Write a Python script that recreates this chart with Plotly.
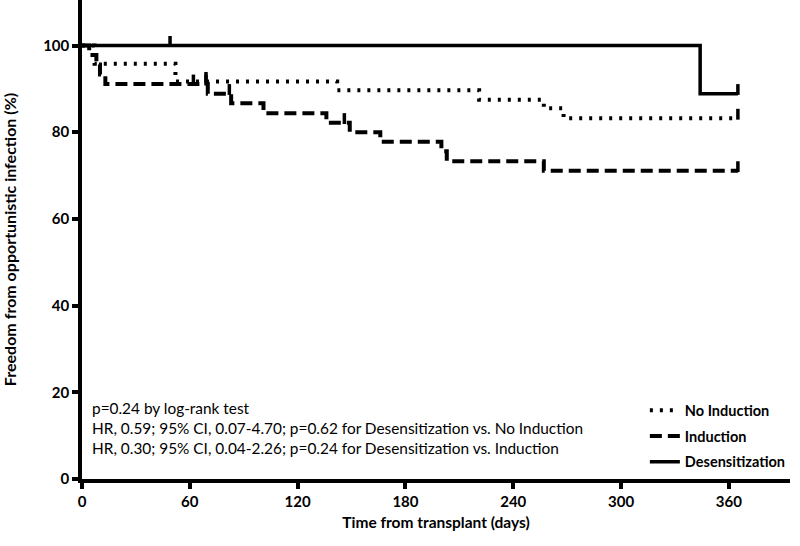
import plotly.graph_objects as go

# ---- data ----
desens_t = [0, 344, 365]
desens_s = [100, 88.9, 88.9]
desens_cens_t = [49, 365]
desens_cens_s = [100, 88.9]

noind_t = [0, 7, 52, 142, 221, 257, 268, 365]
noind_s = [100, 95.8, 91.7, 89.7, 87.5, 85.5, 83.2, 83.2]
noind_cens_t = [69, 365]
noind_cens_s = [91.7, 83.2]

ind_t = [0, 4, 8, 10, 13, 70, 83, 101, 136, 149, 166, 200, 203, 257, 365]
ind_s = [100, 97.8, 95.6, 93.3, 91.1, 88.9, 86.7, 84.4, 82.2, 80.0, 77.8, 75.6, 73.3, 71.1, 71.1]
ind_cens_t = [62, 69, 82, 146, 365]
ind_cens_s = [91.1, 91.1, 88.9, 82.2, 71.1]

x_ticks = [0, 60, 120, 180, 240, 300, 360]
y_ticks = [0, 20, 40, 60, 80, 100]

stats_lines = [
    "p=0.24 by log-rank test",
    "HR, 0.59; 95% CI, 0.07-4.70; p=0.62 for Desensitization vs. No Induction",
    "HR, 0.30; 95% CI, 0.04-2.26; p=0.24 for Desensitization vs. Induction",
]
stats_y = [16.4, 11.8, 7.2]

FONT = "Lato"
fig = go.Figure()

series = [
    ("No Induction", noind_t, noind_s, noind_cens_t, noind_cens_s, "3px,7px", 4),
    ("Induction", ind_t, ind_s, ind_cens_t, ind_cens_s, "12px,6px", 4),
    ("Desensitization", desens_t, desens_s, desens_cens_t, desens_cens_s, "solid", 3.5),
]

for name, t, s, ct, cs, dash, w in series:
    fig.add_trace(go.Scatter(
        x=t, y=s, mode="lines", name=name, legendgroup=name,
        line=dict(color="black", width=w, dash=dash, shape="hv"),
    ))
    fig.add_trace(go.Scatter(
        x=ct, y=cs, mode="markers", legendgroup=name, showlegend=False,
        marker=dict(size=0.1, color="black", opacity=0),
        error_y=dict(type="data", symmetric=False, array=[2.2] * len(ct),
                     arrayminus=[0.3] * len(ct), thickness=3.5, width=0,
                     color="black"),
        hoverinfo="skip",
    ))

for line, yv in zip(stats_lines, stats_y):
    fig.add_annotation(
        x=4.5, xref="x", y=yv, yref="y",
        text=line, showarrow=False, xanchor="left", yanchor="middle",
        font=dict(family=FONT, size=15.4, color="black"),
    )

fig.update_layout(
    width=800, height=546,
    margin=dict(l=82, r=10, t=0, b=67),
    plot_bgcolor="white", paper_bgcolor="white",
    showlegend=True,
    legend=dict(
        x=0.795, y=0.177, xanchor="left", yanchor="top",
        font=dict(family=FONT, size=14.5, color="black", weight="bold"),
        traceorder="grouped", tracegroupgap=4,
        bgcolor="rgba(0,0,0,0)", itemwidth=30,
    ),
    xaxis=dict(
        range=[0, 394], tickvals=x_ticks, ticktext=[str(v) for v in x_ticks],
        showline=True, linecolor="black", linewidth=3.5,
        ticks="outside", ticklen=6, tickwidth=3.5, tickcolor="black",
        showgrid=False, zeroline=False, automargin=False,
        tickfont=dict(family=FONT, size=15, color="black", weight="bold"),
        title=dict(text="Time from transplant (days)", standoff=9,
                   font=dict(family=FONT, size=15.5, color="black", weight="bold")),
    ),
    yaxis=dict(
        range=[0, 110.5], tickvals=y_ticks, ticktext=[str(v) for v in y_ticks],
        showline=True, linecolor="black", linewidth=3.5,
        ticks="outside", ticklen=6, tickwidth=3.5, tickcolor="black",
        showgrid=False, zeroline=False, automargin=False,
        tickfont=dict(family=FONT, size=15, color="black", weight="bold"),
        title=dict(text="Freedom from opportunistic infection (%)", standoff=26,
                   font=dict(family=FONT, size=16, color="black", weight="bold")),
    ),
)

fig.write_html(
    "out.html",
    config={"displayModeBar": False},
    post_script="document.body.style.margin='0';document.body.style.overflow='hidden';",
)
